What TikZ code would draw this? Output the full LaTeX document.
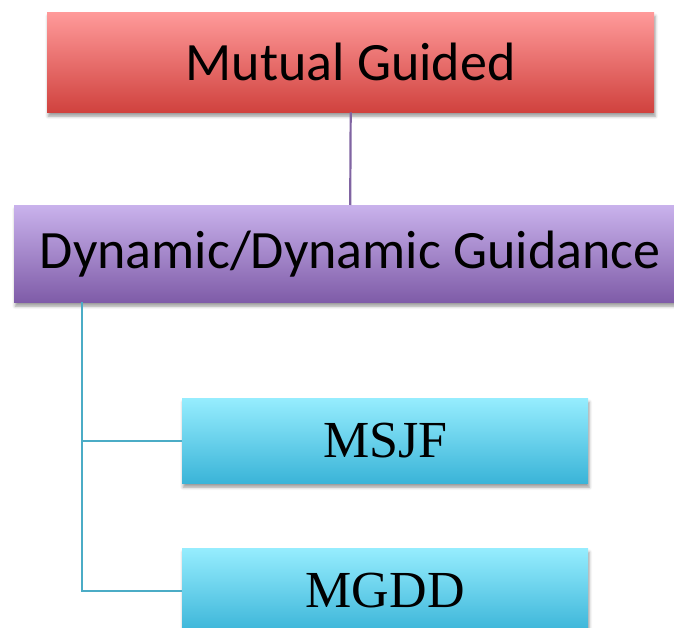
\documentclass[tikz,border=0pt]{standalone}
\usepackage{fontspec}
\setmainfont{Liberation Serif}
\newfontfamily\boxsans{Carlito}
\usetikzlibrary{shadows.blur}
\definecolor{redtop}{HTML}{FF9A9A}
\definecolor{redbot}{HTML}{D0423E}
\definecolor{purtop}{HTML}{C9B2EC}
\definecolor{purbot}{HTML}{7F5CA8}
\definecolor{cyantop}{HTML}{96EDFE}
\definecolor{cyanbot}{HTML}{3AB4D8}
\definecolor{purline}{HTML}{8064A2}
\definecolor{cyanline}{HTML}{4BACC6}
\tikzset{
  box/.style={rectangle, inner sep=0pt, anchor=north west,
    blur shadow={shadow xshift=1pt, shadow yshift=-4pt, shadow blur radius=3pt, shadow opacity=40}},
  redbox/.style={box, top color=redtop, bottom color=redbot, font=\boxsans\fontsize{54}{54}\selectfont},
  purbox/.style={box, top color=purtop, bottom color=purbot, font=\boxsans\fontsize{54}{54}\selectfont},
  cyanbox/.style={box, top color=cyantop, bottom color=cyanbot, font=\fontsize{52}{52}\selectfont},
  link/.style={line width=2.2pt}
}
\begin{document}
\begin{tikzpicture}[x=1pt, y=-1pt]
\useasboundingbox (0,0) rectangle (674,628);
\clip (0,0) rectangle (674,628);
% the four boxes of the hierarchy
\node[redbox, minimum width=607pt, minimum height=100pt] (mg) at (47,12) {Mutual Guided};
\node[purbox, minimum width=672pt, minimum height=97pt] (dyn) at (14,205) {Dynamic/Dynamic Guidance};
\node[cyanbox, minimum width=406pt, minimum height=85pt] (msjf) at (182,398) {MSJF};
\node[cyanbox, minimum width=406pt, minimum height=85pt] (mgdd) at (182,548) {MGDD};
% connectors
\coordinate (trunk) at (82,302);
\draw[link, purline] (mg.south) -- (dyn.north);
\draw[link, cyanline] (trunk) |- (msjf.west);
\draw[link, cyanline] (trunk) |- (mgdd.west);
\end{tikzpicture}
\end{document}
